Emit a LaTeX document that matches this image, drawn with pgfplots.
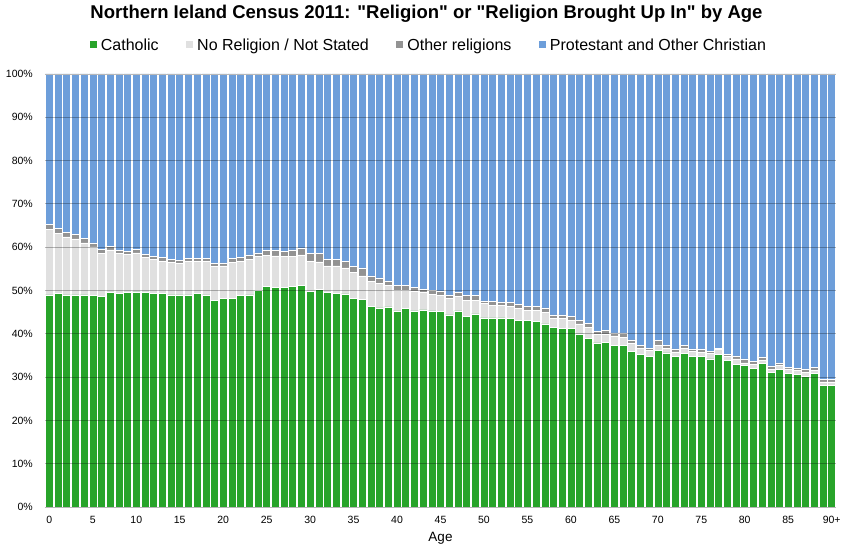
\documentclass[border=0pt]{standalone}
\usepackage{fontspec}
\setmainfont{Liberation Sans}[Ligatures=TeXOff]
\usepackage{pgfplots}
\pgfplotsset{compat=1.18}
\usepackage{pgfplotstable}

\definecolor{cath}{HTML}{28A42A}
\definecolor{nonerel}{HTML}{E0E0E0}
\definecolor{othrel}{HTML}{939393}
\definecolor{prot}{HTML}{6D9EDA}

\pgfplotstableread{
age cat none other prot
0 49.0 15.2 1.1 34.7
1 49.3 13.9 1.2 35.6
2 49.0 13.4 1.1 36.5
3 49.0 12.9 1.1 37.0
4 49.0 12.0 1.1 37.9
5 48.8 11.3 0.9 39.0
6 48.6 10.0 0.9 40.5
7 49.5 9.9 0.8 39.8
8 49.3 9.3 0.7 40.7
9 49.5 8.9 0.6 41.0
10 49.7 9.0 0.8 40.5
11 49.5 8.2 0.7 41.6
12 49.3 7.9 0.7 42.1
13 49.3 7.5 0.8 42.4
14 49.0 7.5 0.7 42.8
15 49.0 7.3 0.6 43.1
16 49.0 7.8 0.6 42.6
17 49.3 7.5 0.7 42.5
18 49.0 7.7 0.7 42.6
19 47.7 7.8 0.8 43.7
20 48.2 7.5 0.7 43.6
21 48.2 8.3 1.0 42.5
22 48.8 8.0 0.9 42.3
23 49.0 8.2 1.0 41.8
24 50.0 7.8 0.9 41.3
25 50.9 7.2 1.2 40.7
26 50.7 7.3 1.3 40.7
27 50.7 7.1 1.3 40.9
28 50.9 6.9 1.6 40.6
29 51.2 7.0 1.6 40.2
30 49.8 7.0 1.7 41.5
31 50.2 6.4 1.9 41.5
32 49.5 6.2 1.5 42.8
33 49.3 6.4 1.5 42.8
34 49.2 6.0 1.6 43.2
35 48.1 6.1 1.4 44.4
36 47.9 5.5 1.8 44.8
37 46.4 5.7 1.3 46.6
38 46.0 5.6 1.3 47.1
39 46.2 4.9 1.1 47.8
40 45.3 4.7 1.1 48.9
41 45.8 4.3 1.0 48.9
42 45.3 4.6 0.8 49.3
43 45.5 4.1 0.8 49.6
44 45.3 3.8 0.9 50.0
45 45.1 3.8 0.9 50.2
46 44.4 3.8 0.8 51.0
47 45.3 3.4 0.8 50.5
48 44.1 3.6 1.2 51.1
49 44.6 3.1 1.2 51.1
50 43.7 3.3 0.6 52.4
51 43.7 2.9 0.9 52.5
52 43.7 2.8 0.9 52.6
53 43.5 2.9 0.9 52.7
54 43.1 2.8 0.9 53.2
55 43.1 2.3 0.9 53.7
56 42.8 2.6 0.9 53.7
57 42.3 2.7 1.0 54.0
58 41.5 2.1 0.8 55.6
59 41.2 2.4 0.8 55.6
60 41.2 1.9 0.9 56.0
61 40.0 2.3 0.8 56.9
62 39.0 2.5 0.9 57.6
63 37.9 1.9 0.8 59.4
64 38.1 1.8 0.9 59.2
65 37.4 2.1 0.7 59.8
66 37.4 1.7 1.1 59.8
67 36.0 1.8 0.8 61.4
68 35.3 1.3 0.8 62.6
69 34.8 1.3 0.6 63.3
70 36.2 1.2 1.0 61.6
71 35.6 1.0 0.8 62.6
72 34.8 1.0 0.7 63.5
73 35.5 1.1 0.8 62.6
74 34.8 1.1 0.6 63.5
75 34.8 0.9 0.8 63.5
76 34.2 1.2 0.6 64.0
77 35.3 1.1 0.3 63.3
78 33.9 0.9 0.5 64.7
79 32.9 1.3 0.7 65.1
80 32.7 0.6 0.9 65.8
81 32.0 0.9 0.7 66.4
82 33.2 0.6 0.9 65.3
83 31.1 0.7 0.8 67.4
84 31.8 0.9 0.6 66.7
85 30.9 1.0 0.4 67.7
86 30.6 1.0 0.5 67.9
87 30.2 0.9 0.8 68.1
88 30.8 0.8 0.7 67.7
89 28.1 0.8 0.6 70.5
90 28.1 0.8 0.6 70.5
}\data

\begin{document}
\begin{tikzpicture}
\begin{axis}[
  name=ax,
  scale only axis,
  width=791bp, height=433bp,
  ybar stacked,
  bar width=0.92,
  xmin=-0.5, xmax=90.5,
  ymin=0, ymax=100,
  xtick={0,5,10,15,20,25,30,35,40,45,50,55,60,65,70,75,80,85,90},
  xticklabels={0,5,10,15,20,25,30,35,40,45,50,55,60,65,70,75,80,85,90+},
  ytick={0,10,...,100},
  yticklabel={\pgfmathprintnumber{\tick}\%},
  /pgf/number format/assume math mode=true,
  tick style={draw=none},
  major tick length=0pt,
  ymajorgrids,
  grid style={black, opacity=0.28, line width=0.9bp},
  axis on top,
  axis line style={draw=none},
  ticklabel style={font=\fontsize{10.5bp}{12bp}\selectfont, inner sep=0pt},
  xticklabel style={anchor=center, yshift=-13bp},
  yticklabel style={anchor=east, xshift=-12bp},
  xlabel={Age},
  xlabel style={font=\fontsize{13.5bp}{15bp}\selectfont, at={(axis description cs:0.5,0)}, anchor=center, yshift=-31bp},
  legend columns=4,
  legend style={at={(axis description cs:0.5,1)}, anchor=center, yshift=29bp, xshift=-12bp,
    draw=none, fill=none, font=\fontsize{16bp}{18bp}\selectfont,
    nodes={inner sep=1bp},
    /tikz/every odd column/.append style={column sep=3bp},
    /tikz/every even column/.append style={column sep=26.5bp}},
  legend image code/.code={\fill[#1,draw=none] (0bp,-3.5bp) rectangle (7bp,3.5bp);},
  every axis plot/.append style={draw=white, line width=0.5bp},
]
\addplot[fill=cath] table[x=age, y=cat] {\data};
\addlegendentry{Catholic}
\addplot[fill=nonerel] table[x=age, y=none] {\data};
\addlegendentry{No Religion / Not Stated}
\addplot[fill=othrel] table[x=age, y=other] {\data};
\addlegendentry{Other religions}
\addplot[fill=prot] table[x=age, y=prot] {\data};
\addlegendentry{Protestant and Other Christian}
\draw[gray!40, line width=1bp] (axis cs:-0.5,0) -- (axis cs:90.5,0);
\end{axis}
\node[font=\bfseries\fontsize{18.5bp}{20bp}\selectfont] at ([yshift=60bp,xshift=-14bp]ax.north) {Northern Ieland Census 2011: "Religion" or "Religion Brought Up In" by Age};
\pgfresetboundingbox
\path[use as bounding box] ([shift={(-45bp,-45bp)}]ax.south west) rectangle ([shift={(17bp,74bp)}]ax.north east);
\end{tikzpicture}
\end{document}
